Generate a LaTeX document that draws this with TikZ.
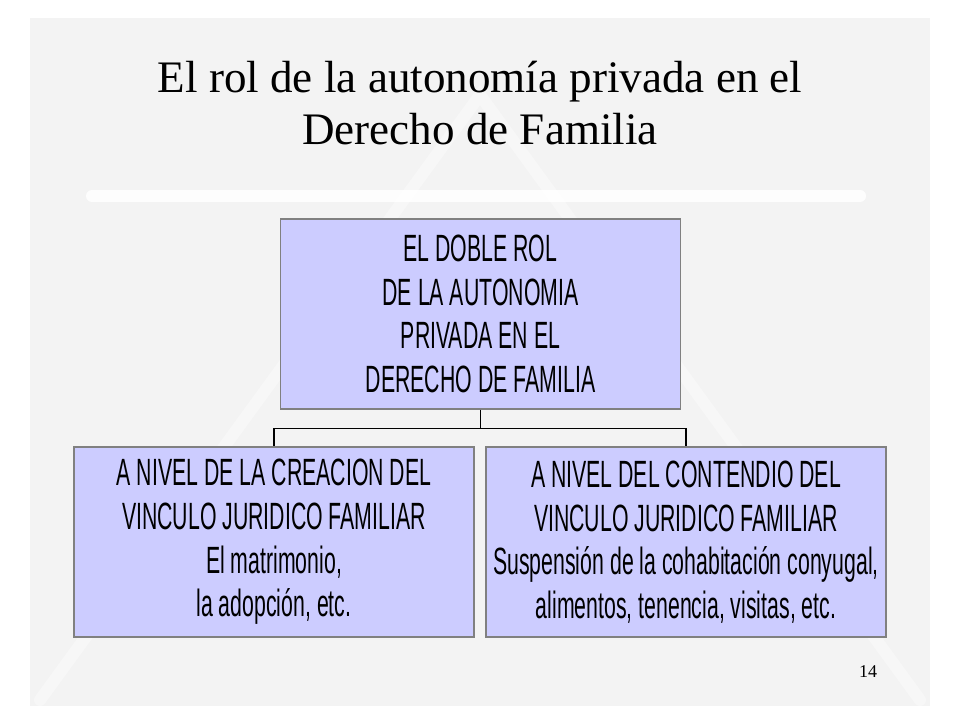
\documentclass[tikz,border=0pt]{standalone}
\usepackage{fontspec}
\setmainfont{Liberation Serif}
\newfontfamily\boxfont[FakeStretch=0.56]{Liberation Sans}
\usetikzlibrary{positioning, calc}

\definecolor{boxfill}{HTML}{CCCCFF}
\definecolor{boxline}{HTML}{808080}
\definecolor{slidebg}{HTML}{F3F3F3}

\begin{document}
\begin{tikzpicture}[
    x=0.75pt, y=-0.75pt,
    box/.style={rectangle, draw=boxline, fill=boxfill, line width=0.9pt, minimum width=300pt, minimum height=142.5pt, inner sep=0pt, align=center, font=\boxfont\fontsize{28.5}{32.7}\selectfont},
    link/.style={draw=black, line width=1.1pt},
    mark line/.style={white, line width=9pt, line cap=round},
]

% Slide background
\fill[white] (0,0) rectangle (960,720);
\fill[slidebg] (30,18) rectangle (930,706);
\draw[mark line, opacity=0.35] (40,700) -- (480,95) -- (920,700);
\draw[mark line, opacity=0.9] (92,196) -- (860,196);

% Title
\node[align=center, font=\fontsize{33.8}{39}\selectfont] (title) at (480,103) {El rol de la autonomía privada en el\\Derecho de Familia};

% Boxes
\node[box] (root) at (480.5,314) {EL DOBLE ROL\\DE LA AUTONOMIA\\PRIVADA EN EL\\DERECHO DE FAMILIA};
\node[box] (creacion) at (274,542) {A NIVEL DE LA CREACION DEL\\VINCULO JURIDICO FAMILIAR\\El matrimonio,\\la adopción, etc.};
\node[box] (contenido) at (686,542) {A NIVEL DEL CONTENDIO DEL\\VINCULO JURIDICO FAMILIAR\\Suspensión de la cohabitación conyugal,\\alimentos, tenencia, visitas, etc.};

% Connectors
\coordinate (split) at ($(root.south)+(0,-14.25pt)$);
\draw[link] (root.south) -- (split) -| (creacion.north);
\draw[link] (split) -| (contenido.north);

% Page number
\node[font=\fontsize{13.5}{16}\selectfont] (page) at (868,672) {14};

\end{tikzpicture}
\end{document}
